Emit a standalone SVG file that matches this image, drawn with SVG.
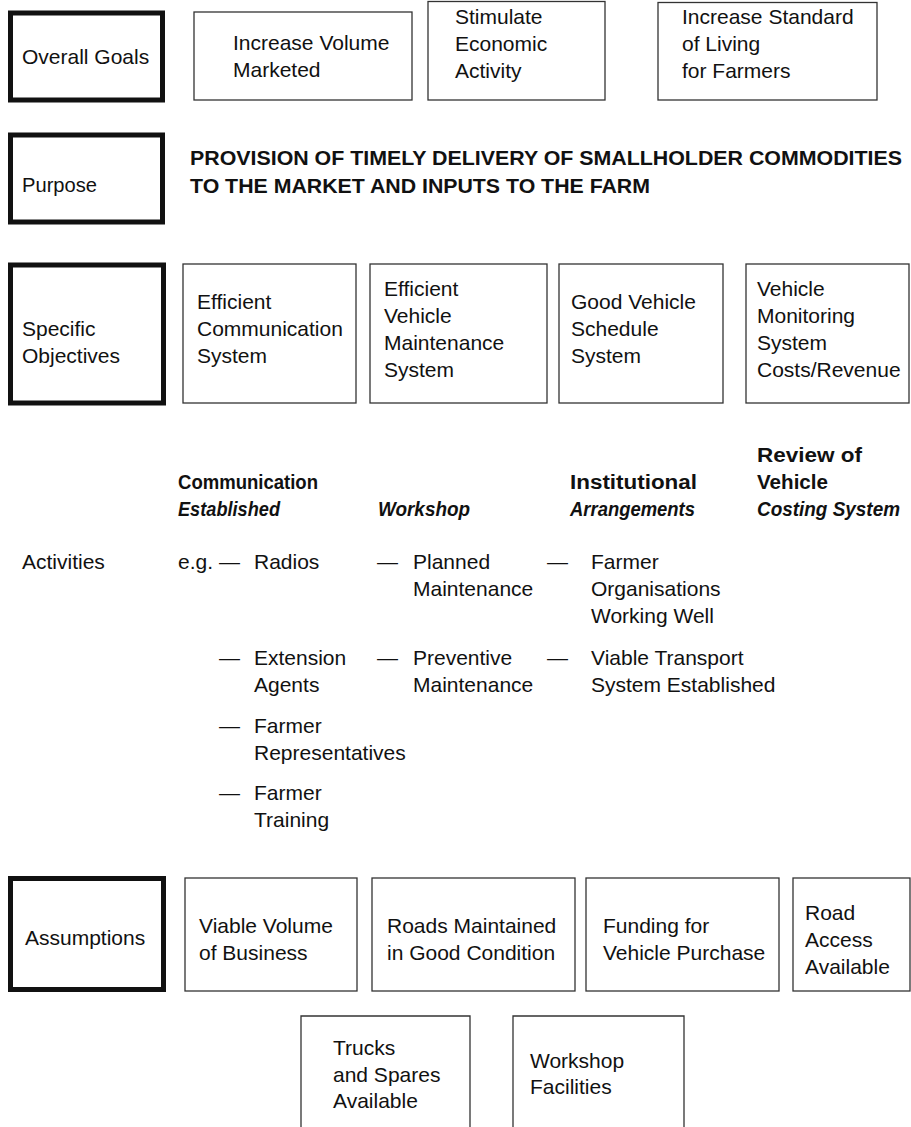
<svg xmlns="http://www.w3.org/2000/svg" width="911" height="1127" viewBox="0 0 911 1127">
<style>
text{font-family:"Liberation Sans",Arial,Helvetica,sans-serif;font-size:21px;fill:#111}
.thick{fill:none;stroke:#111;stroke-width:5}
.thin{fill:none;stroke:#333;stroke-width:1.3}
.b{font-weight:bold}
.bi{font-weight:bold;font-style:italic}
.h{font-weight:bold;font-size:20px}
</style>
<rect width="911" height="1127" fill="#fff"/>
<g id="connectors"/>
<g id="overall-goals"><rect class="thick" x="10.5" y="13" width="152" height="87"/><text x="22" y="64">Overall Goals</text></g>
<g id="goal-volume"><rect class="thin" x="194" y="12" width="218" height="88"/><text x="233" y="50">Increase Volume</text><text x="233" y="77">Marketed</text></g>
<g id="goal-economic"><rect class="thin" x="428" y="1.5" width="177" height="98.5"/><text x="455" y="24">Stimulate</text><text x="455" y="51">Economic</text><text x="455" y="78">Activity</text></g>
<g id="goal-living"><rect class="thin" x="658" y="2.5" width="219" height="97.5"/><text x="682" y="24">Increase Standard</text><text x="682" y="51">of Living</text><text x="682" y="78">for Farmers</text></g>
<g id="purpose"><rect class="thick" x="10.5" y="135" width="152" height="87"/><text x="22" y="192" textLength="75" lengthAdjust="spacingAndGlyphs">Purpose</text></g>
<g id="purpose-statement"><text class="h" x="190" y="165" textLength="712" lengthAdjust="spacingAndGlyphs">PROVISION OF TIMELY DELIVERY OF SMALLHOLDER COMMODITIES</text><text class="h" x="190" y="193" textLength="460" lengthAdjust="spacingAndGlyphs">TO THE MARKET AND INPUTS TO THE FARM</text></g>
<g id="specific-objectives"><rect class="thick" x="10.5" y="265" width="153" height="138"/><text x="22" y="336">Specific</text><text x="22" y="363">Objectives</text></g>
<g id="obj-communication"><rect class="thin" x="183" y="264" width="173" height="139"/><text x="197" y="309">Efficient</text><text x="197" y="336">Communication</text><text x="197" y="363">System</text></g>
<g id="obj-maintenance"><rect class="thin" x="370" y="264" width="177" height="139"/><text x="384" y="296">Efficient</text><text x="384" y="323">Vehicle</text><text x="384" y="350">Maintenance</text><text x="384" y="377">System</text></g>
<g id="obj-schedule"><rect class="thin" x="559" y="264" width="164" height="139"/><text x="571" y="309">Good Vehicle</text><text x="571" y="336">Schedule</text><text x="571" y="363">System</text></g>
<g id="obj-monitoring"><rect class="thin" x="746" y="264" width="163" height="139"/><text x="757" y="296">Vehicle</text><text x="757" y="323">Monitoring</text><text x="757" y="350">System</text><text x="757" y="377">Costs/Revenue</text></g>
<g id="head-communication"><text class="h" x="178" y="489" textLength="140" lengthAdjust="spacingAndGlyphs">Communication</text><text class="h bi" x="178" y="516" textLength="102" lengthAdjust="spacingAndGlyphs">Established</text></g>
<g id="head-workshop"><text class="h bi" x="378" y="516" textLength="92" lengthAdjust="spacingAndGlyphs">Workshop</text></g>
<g id="head-institutional"><text class="h" x="570" y="489" textLength="127" lengthAdjust="spacingAndGlyphs">Institutional</text><text class="h bi" x="570" y="516" textLength="125" lengthAdjust="spacingAndGlyphs">Arrangements</text></g>
<g id="head-review"><text class="h" x="757" y="462" textLength="105" lengthAdjust="spacingAndGlyphs">Review of</text><text class="h" x="757" y="489" textLength="71" lengthAdjust="spacingAndGlyphs">Vehicle</text><text class="h bi" x="757" y="516" textLength="143" lengthAdjust="spacingAndGlyphs">Costing System</text></g>
<g id="activities"><text x="22" y="569">Activities</text></g>
<g id="act-communication"><text x="178" y="569">e.g.</text><text x="219" y="569">—</text><text x="254" y="569">Radios</text><text x="219" y="665">—</text><text x="254" y="665">Extension</text><text x="254" y="692">Agents</text><text x="219" y="733">—</text><text x="254" y="733">Farmer</text><text x="254" y="760">Representatives</text><text x="219" y="800">—</text><text x="254" y="800">Farmer</text><text x="254" y="827">Training</text></g>
<g id="act-workshop"><text x="377" y="569">—</text><text x="413" y="569">Planned</text><text x="413" y="596">Maintenance</text><text x="377" y="665">—</text><text x="413" y="665">Preventive</text><text x="413" y="692">Maintenance</text></g>
<g id="act-institutional"><text x="547" y="569">—</text><text x="591" y="569">Farmer</text><text x="591" y="596">Organisations</text><text x="591" y="623">Working Well</text><text x="547" y="665">—</text><text x="591" y="665">Viable Transport</text><text x="591" y="692">System Established</text></g>
<g id="assumptions"><rect class="thick" x="10.5" y="878.5" width="153" height="111"/><text x="25" y="945">Assumptions</text></g>
<g id="asm-volume"><rect class="thin" x="185" y="878" width="172" height="113"/><text x="199" y="933">Viable Volume</text><text x="199" y="960">of Business</text></g>
<g id="asm-roads"><rect class="thin" x="372" y="878" width="203" height="113"/><text x="387" y="933">Roads Maintained</text><text x="387" y="960">in Good Condition</text></g>
<g id="asm-funding"><rect class="thin" x="586" y="878" width="193" height="113"/><text x="603" y="933">Funding for</text><text x="603" y="960">Vehicle Purchase</text></g>
<g id="asm-road-access"><rect class="thin" x="793" y="878" width="117" height="113"/><text x="805" y="920">Road</text><text x="805" y="947">Access</text><text x="805" y="974">Available</text></g>
<g id="asm-trucks"><path class="thin" d="M301,1130V1016H470V1130"/><text x="333" y="1055">Trucks</text><text x="333" y="1082">and Spares</text><text x="333" y="1108">Available</text></g>
<g id="asm-workshop"><path class="thin" d="M513,1130V1016H684V1130"/><text x="530" y="1068">Workshop</text><text x="530" y="1094">Facilities</text></g>
</svg>
